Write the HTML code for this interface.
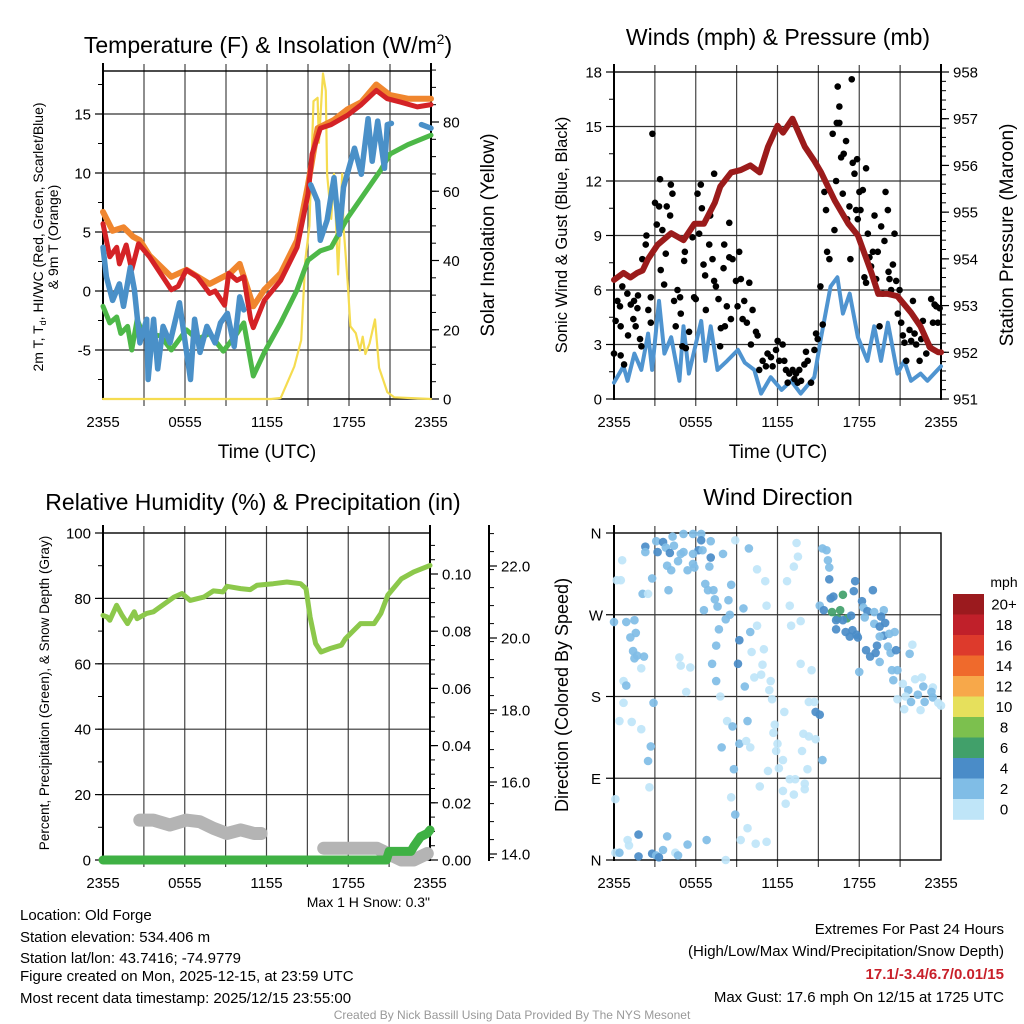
<!DOCTYPE html>
<html><head><meta charset="utf-8"><title>Old Forge Mesonet Meteogram</title>
<style>
html,body{margin:0;padding:0;background:#fff;}
svg{display:block;font-family:"Liberation Sans",Arial,sans-serif;}
</style></head>
<body>
<svg id="fig" width="1024" height="1024" viewBox="0 0 1024 1024" xmlns="http://www.w3.org/2000/svg">
<rect x="0" y="0" width="1024" height="1024" fill="#fff"/>
<g id="g1"></g>
<g id="g2"></g>
<g id="g3"></g>
<g id="g4"></g>

<text x="268" y="53" font-size="23" text-anchor="middle">Temperature (F) &amp; Insolation (W/m<tspan font-size="14" dy="-9">2</tspan><tspan dy="9">)</tspan></text>
<text x="778" y="45" font-size="23" text-anchor="middle">Winds (mph) &amp; Pressure (mb)</text>
<text x="253" y="510" font-size="23" text-anchor="middle">Relative Humidity (%) &amp; Precipitation (in)</text>
<text x="778" y="505" font-size="23" text-anchor="middle">Wind Direction</text>

<text transform="translate(43,237) rotate(-90)" font-size="14" text-anchor="middle">2m T, T<tspan font-size="9" dy="3">d</tspan><tspan dy="-3">, HI/WC (Red, Green, Scarlet/Blue)</tspan></text>
<text transform="translate(58,237) rotate(-90)" font-size="14" text-anchor="middle">&amp; 9m T (Orange)</text>
<text transform="translate(494,235) rotate(-90)" font-size="19" text-anchor="middle">Solar Insolation (Yellow)</text>
<text transform="translate(567,235) rotate(-90)" font-size="16.5" text-anchor="middle">Sonic Wind &amp; Gust (Blue, Black)</text>
<text transform="translate(1013,235) rotate(-90)" font-size="19" text-anchor="middle">Station Pressure (Maroon)</text>
<text transform="translate(49,693) rotate(-90)" font-size="13.5" text-anchor="middle">Percent, Precipitation (Green), &amp; Snow Depth (Gray)</text>
<text transform="translate(568,695) rotate(-90)" font-size="18" text-anchor="middle">Direction (Colored By Speed)</text>

<text x="267" y="458" font-size="19" text-anchor="middle">Time (UTC)</text>
<text x="778" y="458" font-size="19" text-anchor="middle">Time (UTC)</text>
<text x="430" y="907" font-size="14" text-anchor="end">Max 1 H Snow: 0.3"</text>

<g font-size="15">
<text x="20" y="920">Location: Old Forge</text>
<text x="20" y="942">Station elevation: 534.406 m</text>
<text x="20" y="963">Station lat/lon: 43.7416; -74.9779</text>
<text x="20" y="981">Figure created on Mon, 2025-12-15, at 23:59 UTC</text>
<text x="20" y="1003">Most recent data timestamp: 2025/12/15 23:55:00</text>
</g>
<g font-size="15" text-anchor="end">
<text x="1004" y="934">Extremes For Past 24 Hours</text>
<text x="1004" y="956">(High/Low/Max Wind/Precipitation/Snow Depth)</text>
<text x="1004" y="979" fill="#c8202a" font-weight="bold">17.1/-3.4/6.7/0.01/15</text>
<text x="1004" y="1002">Max Gust: 17.6 mph On 12/15 at 1725 UTC</text>
</g>
<text x="512" y="1019" font-size="12" fill="#999" text-anchor="middle">Created By Nick Bassill Using Data Provided By The NYS Mesonet</text>
</svg>
<script>
// ---------- Panel 1 data ----------
const timeTicks = [0, 6, 12, 18, 24];
const timeTickLabels = ["2355", "0555", "1155", "1755", "2355"];
const redHours = [0,0.5,1,1.2,1.7,2.1,2.6,3.4,5,5.5,6.1,6.9,7.8,8.2,8.9,9.2,9.8,10.3,10.8,11,11.8,13,14.2,15,15.3,15.9,16.7,17.9,18.9,20,20.8,21.8,23,24];
const redTemp = [5.7,2.9,3.7,2.3,3.9,1.8,4,2.9,0.1,0.4,1.8,1.2,-0.2,0,-1.2,1.5,0.9,1.2,-2.4,-3.1,-0.8,0.9,3.7,8.2,11.6,13.8,14.1,14.9,15.8,17,16.3,16,15.6,15.8];
const orangeHours = [0,0.7,1.5,2.2,2.7,3.4,5,6.1,7.8,9.3,10,11,11.8,13,14.2,15,15.7,16.9,17.9,18.9,20,21,22.3,24];
const orangeTemp = [6.7,5.1,5.4,4.6,4.3,3,1.2,1.8,0.6,1.5,2.3,-1.3,0.1,1.5,4.3,9,13.8,14.5,15.4,16,17.5,16.6,16.3,16.3];
const greenHours = [0,0.5,1,1.3,1.8,2.1,2.5,2.9,4.2,5,6.1,6.9,7.8,8.8,9.8,10.3,11,11.8,13,14.2,15,15.9,16.7,17.9,19.1,20.3,21,22.3,24];
const greenTemp = [-1.3,-2.7,-2.2,-3.6,-3,-5,-2.4,-3.6,-3.8,-5,-3.3,-4.1,-3.6,-5.1,-3.6,-2.7,-7.2,-5.2,-2.7,0.1,2.6,3.4,3.7,6.2,8.2,10.2,11.6,12.4,13.2];
const blueHours = [0,0.25,0.7,1.2,1.5,2,2.3,2.7,3.2,3.3,3.7,4,4.4,4.9,5.6,6.4,6.7,7.1,7.6,8.2,8.6,9.1,9.6,10,10.3,12,15.2,15.7,15.9,16.4,16.9,17.3,17.6,18.4,18.9,19.4,19.7,20.1,20.6,20.8,21.1,21.5,21.8,23,23.3,24];
const blueTemp = [3.7,1.2,-0.8,0.6,-1.3,2,0.1,-4.4,-2.4,-7.5,-2.4,-6.6,-3,-4.4,-1,-7.5,-2.4,-5.2,-3,-4.4,-2.7,-1.9,-4.7,-0.5,-1.6,null,9,7.6,4.3,6,9.6,4.8,8.8,12.1,9.9,14.6,11,14.4,10.4,14.1,14.2,null,14.4,null,14.1,13.8];
const solarHours = [0,12.3,13,14,14.5,14.8,15.1,15.4,15.7,15.8,16.1,16.3,16.4,16.7,16.9,17.2,17.5,17.6,17.9,18.1,18.5,18.8,19,19.2,19.5,19.9,20.2,20.8,21.3,24];
const solarWm2 = [0,0,0.3,9.4,17,40,50,86,87,74,94,89,65,52,65,36,65,50,34,21,19,14,18,13,16,23,9,2,0.5,0];
const tempTicks = [-5, 0, 5, 10, 15];
const solarTicks = [0, 20, 40, 60, 80];

// ---------- Panel 2 data ----------
const pressHours = [0,0.7,1.2,1.7,2.1,2.5,3.2,4.2,5.1,5.9,6.6,7.4,7.8,8.6,9.3,10,10.7,11.3,12,12.4,13.1,14,14.7,15.2,16.2,17.2,17.9,18.9,19.4,20.1,20.8,21.8,22.5,23.2,23.8,24];
const pressMb = [953.55,953.7,953.6,953.7,953.75,954.0,954.3,954.55,954.4,954.75,954.75,955.2,955.55,955.85,955.9,956.0,955.85,956.4,956.85,956.7,957.0,956.4,956.1,955.85,955.25,954.75,954.5,953.7,953.25,953.25,953.2,952.85,952.55,952.1,952.0,952.0];
const windHours = [0,0.7,1,1.5,2,2.5,2.8,3.3,3.7,4.2,4.8,5.1,5.5,6.4,6.7,7.1,7.6,8.3,9.1,9.6,10.3,10.8,11.5,12.3,13,13.7,14.7,15.2,15.9,16.4,16.8,17.3,17.9,18.6,19.1,19.6,20.1,20.8,21.3,21.8,22.5,23,24];
const windMph = [0.9,1.8,1.0,2.5,1.6,3.6,1.6,5.4,2.5,3.4,1.0,4.0,1.4,4.3,2.1,4.0,1.6,2.1,2.7,2.0,1.6,0.3,1.2,0.5,1.0,0.3,1.2,3.4,6.2,6.7,4.7,5.8,3.4,2.1,4.0,2.1,4.2,1.4,2.1,1.0,1.4,1.0,1.8];
const gustHours = [0,0.25,0.12,0.44,0.49,0.49,0.74,0.61,0.98,1.03,1.23,1.47,1.42,1.59,1.72,1.76,1.91,2.01,2.08,2.33,2.38,2.52,2.7,2.7,2.82,3.01,3.14,3.31,3.38,3.43,3.55,3.68,3.8,3.87,4.12,4.17,4.29,4.41,4.53,4.66,4.85,4.9,5.02,5.15,5.2,5.27,5.51,5.76,5.88,6.0,6.13,6.25,6.37,6.45,6.57,6.69,6.74,7.06,6.99,7.23,7.35,7.48,7.35,7.67,7.79,7.84,8.04,8.09,8.14,8.28,8.46,8.46,8.58,8.7,8.95,9.07,9.19,9.31,9.44,9.56,9.75,9.93,10.05,10.17,10.42,10.54,10.66,10.91,11.15,11.27,11.52,11.64,11.89,12.01,12.13,12.38,12.5,12.62,12.75,12.87,13.11,13.24,13.36,13.48,13.6,13.73,13.97,14.09,14.22,14.46,14.71,14.83,14.95,15.15,15.32,15.44,15.56,15.64,15.81,16.05,16.18,16.3,16.35,16.42,16.54,16.54,16.67,16.79,16.86,17.03,17.11,17.28,17.35,17.45,17.52,17.65,17.77,17.84,17.89,18.01,18.09,18.26,18.38,18.5,18.5,18.63,18.75,18.87,19.0,19.12,19.24,19.36,19.49,19.61,19.73,19.85,19.93,20.1,20.15,20.22,20.34,20.47,20.59,20.71,20.83,20.96,21.08,21.2,21.32,21.45,21.69,21.81,21.94,22.06,22.18,22.43,22.55,22.67,22.92,23.16,23.28,23.41,23.53,23.65,23.77,23.9];
const gustMph = [2.5,5.4,4.3,5.1,4.0,2.4,1.9,6.2,5.8,3.5,5.2,5.4,4.4,4.0,5.0,5.7,3.3,2.9,7.7,8.5,9.0,4.9,5.6,4.2,14.6,10.8,9.6,10.6,12.1,7.1,9.3,6.3,8.0,10.6,10.1,11.8,11.3,5.4,4.0,6.0,5.6,4.7,2.9,7.6,8.1,2.8,3.7,8.9,5.6,5.5,11.3,9.1,11.8,10.5,7.4,6.8,4.9,10.1,8.5,7.7,6.5,6.2,12.4,5.5,2.9,3.9,7.2,8.5,4.0,5.1,9.7,7.8,4.4,7.7,6.5,5.1,8.1,6.6,4.4,5.4,4.2,6.4,3.0,4.9,3.7,3.5,1.6,2.1,1.8,2.5,2.3,1.8,2.7,3.2,2.1,3.0,2.1,1.6,0.9,1.4,1.6,1.1,1.4,0.9,1.6,1.0,1.9,2.6,2.1,0.9,2.7,3.6,3.3,6.2,4.1,11.4,10.4,8.1,7.7,14.6,9.3,12.0,15.2,17.2,16.1,15.2,13.3,11.3,13.5,14.2,9.9,10.6,7.7,17.6,13.0,12.4,10.4,13.2,9.9,11.4,10.4,11.5,6.7,12.7,6.4,9.1,7.8,7.3,8.1,10.1,6.6,8.1,4.0,9.5,5.8,8.7,11.4,10.4,7.0,6.6,6.0,7.4,9.1,6.5,4.7,6.0,4.2,3.5,3.1,2.1,3.8,3.2,5.4,3.6,3.0,2.1,3.3,4.3,2.5,2.9,5.5,4.2,5.2,5.1,4.2,5.0];
const windTicks = [0, 3, 6, 9, 12, 15, 18];
const pressTicks = [951, 952, 953, 954, 955, 956, 957, 958];

// ---------- Panel 3 data ----------
const rhHours = [0,0.3,0.5,1,1.4,1.8,2.3,2.5,3.2,3.7,4.2,5.2,5.8,6.4,7.4,8.1,8.8,9.1,10.1,10.8,11.3,12.5,13.5,14.5,14.9,15.2,15.6,16,16.7,17.5,17.8,18.9,19.9,20.4,20.9,21.9,22.8,24];
const rhPct = [74.8,74.3,73.3,77.9,74.8,72.3,75.9,73.8,75.4,75.9,77.4,80.4,81.5,79.4,80.4,82.3,82.0,83.7,83.0,82.7,84.0,84.5,85.0,84.5,83.0,74.3,66.2,63.6,64.7,65.7,67.7,72.3,72.3,75.4,81.0,86.0,88.1,90.1];
const snowHours = [2.7,3.7,4.9,6.1,7.1,8.1,9.1,10.1,11.1,11.6,null,16.2,18,20.1,20.9,21.9,22.8,23.8];
const snowDepth = [12.2,12.2,10.7,12.2,11.7,9.7,8.1,9.2,8.1,8.1,null,3.6,3.6,3.6,2.0,0,0,2.0];
const precipHours = [0,20.8,21,22.6,22.8,23.3,23.8,24];
const precipIn = [0,0,0.003,0.003,0.0047,0.0081,0.0093,0.0105];
const rhTicks = [0, 20, 40, 60, 80, 100];
const precipTicks = [0, 0.02, 0.04, 0.06, 0.08, 0.10];
const snowAxisTicks = [14, 16, 18, 20, 22];

// ---------- Panel 4 data ----------
const dirHours = [0.6,0.2,0.5,2.3,3.1,3.6,3.2,2.3,3.8,4.4,4.3,5.1,5.8,6.4,6.4,6.2,6.5,5.8,5.1,4.9,4.7,4.1,3.9,4.2,5.4,5.8,5.9,7.1,7.0,7.1,8.0,8.9,9.9,2.8,2.1,2.5,4.0,6.7,6.9,7.3,8.6,7.4,7.6,8.4,9.5,10.5,11.1,11.2,12.7,12.9,13.4,13.5,13.2,6.6,8.5,8.2,7.7,0,0.9,1.5,1.6,1.2,1.4,1.5,1.7,2.2,2.0,4.8,4.9,5.6,7.5,7.2,7.5,9.2,10.0,10.5,9.1,10.1,11.0,10.9,10.3,10.8,11.5,9.6,11.4,11.6,7.8,5.3,0.7,0.9,0.7,2.9,0.4,1.3,2.0,2.7,2.5,2.6,0.1,8.3,8.7,9.8,11.8,11.7,12.0,11.9,12.5,7.9,9.2,9.7,10.0,8.8,8.6,8.9,12.4,12.1,11.3,10.7,12.4,12.9,13.3,14.0,14.0,13.2,12.6,13.9,14.3,14.8,13.8,14.2,15.3,14.3,14.7,14.8,15.1,13.7,14.5,13.0,13.7,15.3,15.6,15.7,15.8,15.8,16.1,15.9,16.8,15.1,15.4,16.0,16.6,16.4,17.1,16.3,16.8,17.4,17.7,17.6,18.2,18.3,18.6,19.1,19.8,19.0,18.4,19.1,19.5,19.9,19.6,17.0,17.5,17.3,17.8,17.9,16.3,19.8,20.2,20.6,19.5,19.3,18.5,18.8,19.2,20.3,20.1,20.7,19.5,18.0,20.4,20.8,20.5,21.2,21.9,21.7,21.6,22.1,22.6,22.7,23.4,23.3,22.3,21.4,20.8,21.8,22.8,23.4,23.8,24.0,21.3,22.5,0.1,0.4,1.0,1.1,1.8,1.8,2.8,3.1,3.3,3.6,3.9,4.5,4.7,5.4,6.8,8.2,9.3,10.4,11.2,9.8,12.7,13.0,13.5];
const dirDeg = [330,308,308,345,351,350,339,339,344,346,356,359,359,359,352,341,341,337,339,337,329,338,324,319,319,326,322,333,323,351,337,352,343,310,293,293,297,304,297,297,303,287,279,286,277,320,307,280,307,280,349,334,323,275,270,265,254,262,262,264,250,245,230,222,225,224,211,223,214,212,236,216,197,242,251,258,216,229,232,215,201,204,197,191,187,177,180,185,197,192,173,173,153,152,144,125,109,80,67,153,147,153,149,140,128,120,163,124,128,131,124,100,69,50,110,101,98,81,76,89,89,84,78,72,62,139,136,133,120,100,110,174,174,163,160,216,209,258,263,343,341,330,322,309,290,288,292,280,275,273,275,266,266,264,264,269,307,296,285,278,274,273,275,297,267,260,257,261,268,251,253,246,248,245,254,247,249,251,246,236,231,224,228,228,235,231,218,207,209,209,198,194,237,227,187,199,201,191,190,185,182,180,177,174,174,179,173,170,166,165,8,8,22,16,28,4,7,5,3,11,26,8,5,17,22,0,22,18,20,35,15,27,32];
const dirSpeed = [1,1,1,5,3,5,5,3,3,3,3,3,3,3,5,5,3,3,3,3,3,5,3,3,3,3,3,5,3,3,3,1,3,3,3,1,3,3,3,3,3,3,3,3,3,1,1,1,1,1,1,1,1,3,3,3,3,3,3,3,3,3,3,3,3,3,1,1,1,1,3,3,3,5,3,1,5,1,1,1,1,1,1,3,1,1,1,1,1,3,1,3,1,1,1,3,3,1,1,1,3,3,1,1,1,1,1,3,3,1,1,3,1,3,1,1,1,1,1,1,1,1,1,1,1,1,1,1,1,1,3,1,1,5,5,1,1,1,1,3,3,3,3,5,5,5,7,3,5,7,7,7,7,5,5,5,5,5,5,3,5,3,3,5,3,3,5,5,5,5,5,5,5,5,5,5,3,3,3,5,5,5,5,3,3,5,3,3,3,3,3,1,1,3,3,1,1,3,1,3,3,1,1,3,3,3,1,1,1,1,1,3,1,1,5,5,5,3,5,3,3,1,3,3,3,1,1,1,1,1];
const dirTicks = [0, 90, 180, 270, 360];
const dirTickLabels = ["N", "E", "S", "W", "N"];
const speedBins = [0, 2, 4, 6, 8, 10, 12, 14, 16, 18, 20];
const speedBinLabels = ["0", "2", "4", "6", "8", "10", "12", "14", "16", "18", "20+"];
const speedColors = ["#bfe5f8","#80bde6","#4a8cc8","#41a06a","#7cc04e","#e6e05c","#f7a84a","#ef6a2c","#dd3a2c","#c0202a","#9b1a1e"];

// ---------- helpers ----------
const NS = "http://www.w3.org/2000/svg";
function mk(tag, attrs, parent) {
  const el = document.createElementNS(NS, tag);
  for (const k in attrs) el.setAttribute(k, attrs[k]);
  parent.appendChild(el);
  return el;
}
function pathFrom(xs, ys, fx, fy) {
  let d = "", pen = false;
  for (let i = 0; i < Math.min(xs.length, ys.length); i++) {
    if (xs[i] === null || ys[i] === null) { pen = false; continue; }
    d += (pen ? "L" : "M") + fx(xs[i]).toFixed(1) + "," + fy(ys[i]).toFixed(1);
    pen = true;
  }
  return d;
}
function linScale(d0, d1, r0, r1) { return v => r0 + (v - d0) / (d1 - d0) * (r1 - r0); }

function frame(g, X0, X1, Y0, Y1, xs, hGrid, fy) {
  for (let h = 3; h < 24; h += 3) {
    const l = mk("line", {x1: xs(h), x2: xs(h), y1: Y0 - 7, y2: Y1 + 7, stroke: "#444", "stroke-width": 1.2}, g);
    
    
  }
  hGrid.forEach(v => {
    const y = fy(v);
    if (y <= Y0 + 1 || y >= Y1 - 1) return;
    const l = mk("line", {x1: X0, x2: X1, y1: y, y2: y, stroke: "#333", "stroke-width": 1.2}, g);
    
    
  });
  const b = mk("rect", {x: X0, y: Y0, width: X1 - X0, height: Y1 - Y0, fill: "none", stroke: "#000", "stroke-width": 1.4}, g);
  
  
  timeTicks.forEach((h, i) => {
    const t = mk("text", {x: xs(h), y: Y1 + 28, "font-size": 15, "text-anchor": "middle"}, g);
    t.textContent = timeTickLabels[i];
    
    
  });
}
function leftAxis(g, X, Y0, Y1, fy, ticks, labels, minorStep, lo, hi) {
  const a = mk("line", {x1: X, x2: X, y1: Y0 - 8, y2: Y1 + 1, stroke: "#000", "stroke-width": 2}, g);
  
  
  for (let v = lo; v <= hi + 1e-9; v += minorStep) {
    const y = fy(v); if (y < Y0 - 8 || y > Y1 + 1) continue;
    const m = mk("line", {x1: X - 5, x2: X, y1: y, y2: y, stroke: "#000", "stroke-width": 1}, g);
    
    
  }
  ticks.forEach((v, i) => {
    const y = fy(v);
    const m = mk("line", {x1: X - 8, x2: X, y1: y, y2: y, stroke: "#000", "stroke-width": 1.2}, g);
    
    
    const t = mk("text", {x: X - 12, y: y + 5.5, "font-size": 15, "text-anchor": "end"}, g);
    t.textContent = labels[i];
    
    
  });
}
function rightAxis(g, X, Y0, Y1, fy, ticks, labels, minorStep, lo, hi, fs) {
  const a = mk("line", {x1: X, x2: X, y1: Y0 - 8, y2: Y1 + 1, stroke: "#000", "stroke-width": 2}, g);
  
  
  for (let v = lo; v <= hi + 1e-9; v += minorStep) {
    const y = fy(v); if (y < Y0 - 8 || y > Y1 + 1) continue;
    const m = mk("line", {x1: X, x2: X + 5, y1: y, y2: y, stroke: "#000", "stroke-width": 1}, g);
    
    
  }
  ticks.forEach((v, i) => {
    const y = fy(v);
    const m = mk("line", {x1: X, x2: X + 8, y1: y, y2: y, stroke: "#000", "stroke-width": 1.2}, g);
    
    
    const t = mk("text", {x: X + 12, y: y + 5.5, "font-size": fs || 15, "text-anchor": "start"}, g);
    t.textContent = labels[i];
    
    
  });
}
function series(g, xs, ys, fx, fy, color, w, name) {
  const p = mk("path", {d: pathFrom(xs, ys, fx, fy), fill: "none", stroke: color, "stroke-width": w, "stroke-linejoin": "round", "stroke-linecap": "round"}, g);
  
  
  return p;
}

// ---------- Panel 1 ----------
(function () {
  const g = document.getElementById("g1");
  const X0 = 103, X1 = 431, Y0 = 71, Y1 = 399;
  const xs = linScale(0, 24, X0, X1);
  const yT = linScale(0, 15, 291, 114);
  const yS = linScale(0, 80, 399, 122);
  frame(g, X0, X1, Y0, Y1, xs, tempTicks, yT);
  leftAxis(g, X0, Y0, Y1, yT, tempTicks, tempTicks.map(String), 2.5, -7.5, 17.5);
  rightAxis(g, X1, Y0, Y1, yS, solarTicks, solarTicks.map(String), 5, 0, 95);
  series(g, solarHours, solarWm2, xs, yS, "#f5dc50", 2.2, "solar-insolation-line");
  series(g, greenHours, greenTemp, xs, yT, "#4db848", 5, "heat-index-windchill-line");
  series(g, orangeHours, orangeTemp, xs, yT, "#f0862e", 6, "temp-9m-line");
  series(g, redHours, redTemp, xs, yT, "#d42226", 5, "temp-2m-line");
  series(g, blueHours, blueTemp, xs, yT, "#4a90c8", 5.5, "dewpoint-line");
})();

// ---------- Panel 2 ----------
(function () {
  const g = document.getElementById("g2");
  const X0 = 614, X1 = 941, Y0 = 72, Y1 = 399;
  const xs = linScale(0, 24, X0, X1);
  const yW = linScale(0, 18, Y1, Y0);
  const yP = linScale(951, 958, Y1, Y0);
  frame(g, X0, X1, Y0, Y1, xs, windTicks, yW);
  leftAxis(g, X0, Y0, Y1, yW, windTicks, windTicks.map(String), 1.5, 0, 18);
  rightAxis(g, X1, Y0, Y1, yP, pressTicks, pressTicks.map(String), 0.2, 951, 958.2);
  series(g, windHours, windMph, xs, yW, "#4f94d0", 4, "sonic-wind-line");
  for (let i = 0; i < Math.min(gustHours.length, gustMph.length); i++) {
    const c = mk("circle", {cx: xs(gustHours[i]), cy: yW(gustMph[i]), r: 3.3, fill: "#000"}, g);
    
    
  }
  series(g, pressHours, pressMb, xs, yP, "#9b1b1b", 6, "station-pressure-line");
})();

// ---------- Panel 3 ----------
(function () {
  const g = document.getElementById("g3");
  const X0 = 103, X1 = 430, Y0 = 533, Y1 = 860;
  const xs = linScale(0, 24, X0, X1);
  const yR = linScale(0, 100, Y1, Y0);
  const yPr = linScale(0, 0.1, Y1, 574);
  const ySn = linScale(14, 22, 854, 566);
  frame(g, X0, X1, Y0, Y1, xs, rhTicks, yR);
  leftAxis(g, X0, Y0, Y1, yR, rhTicks, rhTicks.map(String), 10, 0, 100);
  rightAxis(g, X1, Y0, Y1, yPr, precipTicks, precipTicks.map(v => v.toFixed(2)), 0.005, 0, 0.11);
  rightAxis(g, 489, Y0, Y1, ySn, snowAxisTicks, snowAxisTicks.map(v => v.toFixed(1)), 0.5, 13.9, 22.9);
  series(g, snowHours, snowDepth, xs, yR, "#b4b4b4", 13, "snow-depth-line");
  series(g, rhHours, rhPct, xs, yR, "#8cc84b", 5, "relative-humidity-line");
  series(g, precipHours, precipIn, xs, yPr, "#3fb144", 9, "precipitation-line");
})();

// ---------- Panel 4 ----------
(function () {
  const g = document.getElementById("g4");
  const X0 = 614, X1 = 941, Y0 = 533, Y1 = 860;
  const xs = linScale(0, 24, X0, X1);
  const yD = linScale(0, 360, Y1, Y0);
  frame(g, X0, X1, Y0, Y1, xs, dirTicks, yD);
  const a = mk("line", {x1: X0, x2: X0, y1: Y0 - 8, y2: Y1 + 1, stroke: "#000", "stroke-width": 2}, g);
  
  
  dirTicks.forEach((v, i) => {
    const y = yD(v);
    const m = mk("line", {x1: X0 - 8, x2: X0, y1: y, y2: y, stroke: "#000", "stroke-width": 1.2}, g);
    
    
    const t = mk("text", {x: X0 - 18, y: y + 5.5, "font-size": 15, "text-anchor": "middle"}, g);
    t.textContent = dirTickLabels[i];
    
    
  });
  const n = Math.min(dirHours.length, dirDeg.length, dirSpeed.length);
  for (let i = 0; i < n; i++) {
    let bin = 0;
    for (let k = 0; k < speedBins.length; k++) if (dirSpeed[i] >= speedBins[k]) bin = k;
    const c = mk("circle", {cx: xs(dirHours[i]), cy: yD(dirDeg[i]), r: 4.3, fill: speedColors[bin], "fill-opacity": 0.92}, g);
    
    
  }
  const cbTop = 594, cbH = 20.5;
  const u = mk("text", {x: 1004, y: 587, "font-size": 14, "text-anchor": "middle"}, g);
  u.textContent = "mph";
  
  
  for (let k = 0; k < speedBins.length; k++) {
    const j = speedBins.length - 1 - k;
    const r = mk("rect", {x: 953, y: cbTop + k * cbH, width: 31, height: cbH + 0.3, fill: speedColors[j]}, g);
    
    
    const t = mk("text", {x: 1004, y: cbTop + k * cbH + 15.5, "font-size": 15, "text-anchor": "middle"}, g);
    t.textContent = speedBinLabels[j];
    
    
  }
})();
</script>
</body></html>
